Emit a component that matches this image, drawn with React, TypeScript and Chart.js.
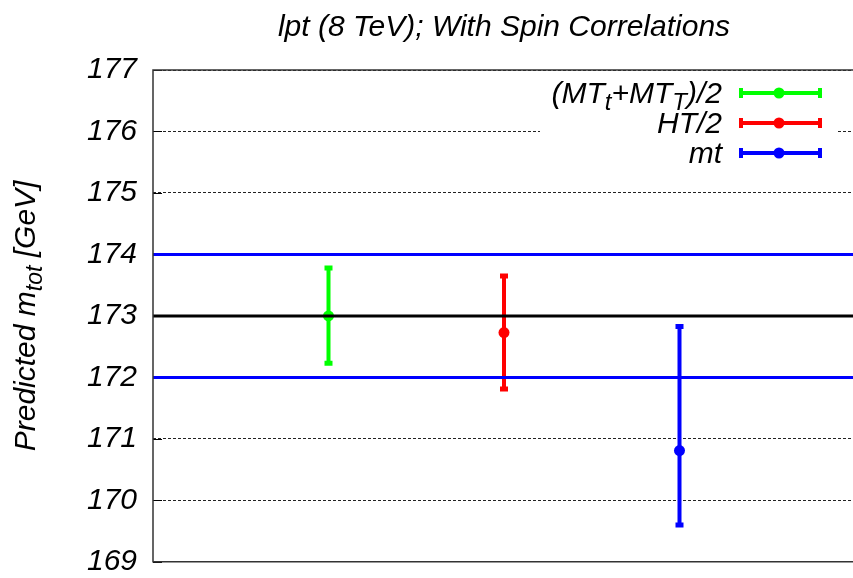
import React, { useEffect, useRef } from "react";
import { Chart, registerables } from "chart.js";

Chart.register(...registerables);

const titleText = "lpt (8 TeV); With Spin Correlations";
const categories = ["(MT_t+MT_T)/2", "HT/2", "mt"];
const xPositions = [1, 2, 3];
const centralValues = [173.0, 172.73, 170.81];
const lowerValues = [172.23, 171.81, 169.6];
const upperValues = [173.78, 173.65, 172.83];
const seriesColors = ["#00ff00", "#ff0000", "#0000ff"];
const refLineValues = [174, 173, 172];
const refLineColors = ["#0000ff", "#000000", "#0000ff"];
const yMin = 169;
const yMax = 177;
const xMin = 0;
const xMax = 4;

const FONT = '"Liberation Sans", Arial, Helvetica, sans-serif';

type Seg = { t: string; sub?: boolean };

function parseLabel(label: string): Seg[] {
  const segs: Seg[] = [];
  let buf = "";
  for (let i = 0; i < label.length; i++) {
    if (label[i] === "_" && i + 1 < label.length) {
      if (buf) segs.push({ t: buf });
      buf = "";
      segs.push({ t: label[i + 1], sub: true });
      i++;
    } else buf += label[i];
  }
  if (buf) segs.push({ t: buf });
  return segs;
}

function drawSegs(ctx: CanvasRenderingContext2D, segs: Seg[], x: number, y: number, align: "left" | "right" | "center", size: number, subSize: number, subOff: number) {
  const mainFont = `italic ${size}px ${FONT}`;
  const subFont = `italic ${subSize}px ${FONT}`;
  const widths = segs.map((s) => {
    ctx.font = s.sub ? subFont : mainFont;
    return ctx.measureText(s.t).width;
  });
  const total = widths.reduce((a, b) => a + b, 0);
  let cx = align === "left" ? x : align === "right" ? x - total : x - total / 2;
  ctx.textAlign = "left";
  ctx.textBaseline = "alphabetic";
  segs.forEach((s, i) => {
    ctx.font = s.sub ? subFont : mainFont;
    ctx.fillText(s.t, cx, s.sub ? y + subOff : y);
    cx += widths[i];
  });
}

const decorPlugin = {
  id: "decor",
  beforeDatasetsDraw(chart: any) {
    const { ctx, chartArea, scales } = chart;
    const y = scales.y;
    ctx.save();
    ctx.strokeStyle = "#000";
    ctx.lineWidth = 1;
    for (let v = yMin; v <= yMax; v++) {
      const py = Math.round(y.getPixelForValue(v)) + 0.5;
      ctx.beginPath();
      ctx.moveTo(chartArea.left, py);
      ctx.lineTo(chartArea.left + 9, py);
      ctx.stroke();
    }
    ctx.restore();
  },
  afterDraw(chart: any) {
    const { ctx, chartArea } = chart;
    const { left, right, top, bottom } = chartArea;
    ctx.save();
    ctx.strokeStyle = "#333";
    ctx.lineWidth = 1.5;
    ctx.beginPath();
    ctx.moveTo(right, top);
    ctx.lineTo(left, top);
    ctx.lineTo(left, bottom);
    ctx.lineTo(right, bottom);
    ctx.stroke();

    ctx.fillStyle = "#000";
    ctx.font = `italic 30px ${FONT}`;
    ctx.textAlign = "center";
    ctx.textBaseline = "alphabetic";
    ctx.fillText(titleText, (left + right) / 2, 36);

    ctx.save();
    ctx.translate(35, (top + bottom) / 2);
    ctx.rotate(-Math.PI / 2);
    drawSegs(ctx, [{ t: "Predicted m" }, { t: "tot", sub: true }, { t: " [GeV]" }], 0, 0, "center", 30, 23, 7);
    ctx.restore();

    ctx.fillStyle = "#fff";
    ctx.fillRect(540, top + 1.5, 297, 95);
    const rowY0 = 93;
    const rowStep = 30;
    categories.forEach((label, i) => {
      const ly = rowY0 + i * rowStep;
      ctx.fillStyle = "#000";
      drawSegs(ctx, parseLabel(label), 722, ly + 10, "right", 30, 24, 7);
      const c = seriesColors[i];
      ctx.strokeStyle = c;
      ctx.lineWidth = 4;
      ctx.beginPath();
      ctx.moveTo(740, ly);
      ctx.lineTo(821, ly);
      ctx.stroke();
      ctx.beginPath();
      ctx.moveTo(741, ly - 5);
      ctx.lineTo(741, ly + 5);
      ctx.moveTo(820, ly - 5);
      ctx.lineTo(820, ly + 5);
      ctx.stroke();
      ctx.fillStyle = c;
      ctx.beginPath();
      ctx.arc(779, ly, 5.5, 0, Math.PI * 2);
      ctx.fill();
    });
    ctx.restore();
  },
};

export default function App() {
  const ref = useRef<HTMLCanvasElement | null>(null);
  useEffect(() => {
    if (!ref.current) return;
    const refDatasets = refLineValues.map((v, i) => ({
      type: "line" as const,
      label: `ref${v}`,
      data: [
        { x: xMin, y: v },
        { x: xMax, y: v },
      ],
      borderColor: refLineColors[i],
      borderWidth: 3,
      pointRadius: 0,
      order: 0,
    }));
    const barDatasets = categories.map((c, i) => ({
      type: "line" as const,
      label: c + " err",
      data: [
        { x: xPositions[i], y: lowerValues[i] },
        { x: xPositions[i], y: upperValues[i] },
      ],
      borderColor: seriesColors[i],
      borderWidth: 4,
      pointStyle: "line" as const,
      pointRadius: 4,
      pointBorderWidth: 5,
      pointBorderColor: seriesColors[i],
      order: 2,
    }));
    const pointDatasets = categories.map((c, i) => ({
      type: "scatter" as const,
      label: c,
      data: [{ x: xPositions[i], y: centralValues[i] }],
      pointRadius: 5.5,
      pointBackgroundColor: seriesColors[i],
      pointBorderWidth: 0,
      order: 1,
    }));
    const chart = new Chart(ref.current, {
      type: "scatter",
      data: { datasets: [...refDatasets, ...pointDatasets, ...barDatasets] as any },
      options: {
        animation: false,
        responsive: false,
        devicePixelRatio: 1,
        layout: { padding: { left: 0, top: 70, right: 15, bottom: 16 } },
        plugins: { legend: { display: false }, tooltip: { enabled: false }, title: { display: false } },
        scales: {
          x: { type: "linear", min: xMin, max: xMax, display: false },
          y: {
            type: "linear",
            min: yMin,
            max: yMax,
            ticks: { stepSize: 1, padding: 16, color: "#000", font: { family: FONT, size: 30, style: "italic", lineHeight: 0.01 } },
            grid: { color: "#222", lineWidth: 1, drawTicks: false },
            border: { display: false, dash: [3, 2] },
            afterFit: (scale: any) => {
              scale.width = 153;
            },
          },
        },
      },
      plugins: [decorPlugin],
    });
    return () => chart.destroy();
  }, []);
  return (
    <div style={{ position: "fixed", left: 0, top: 0, width: 853, height: 578, overflow: "hidden", background: "#fff" }}>
      <canvas ref={ref} width={870} height={578} style={{ display: "block", width: 870, height: 578 }} />
    </div>
  );
}
